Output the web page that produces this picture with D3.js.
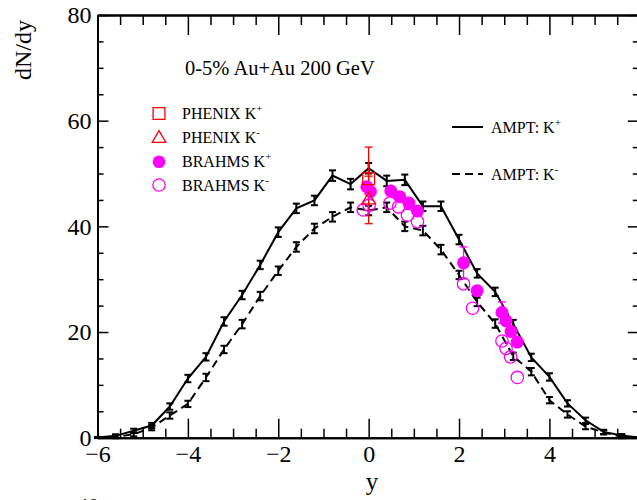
<!DOCTYPE html>
<html><head><meta charset="utf-8">
<script src="https://cdn.jsdelivr.net/npm/d3@7"></script>
<style>body{margin:0;background:#fff}svg{display:block}text{font-family:"Liberation Serif","Times New Roman",serif;fill:#000}</style>
</head><body><svg id="c" width="637" height="500"></svg>
<script>
// ---- data ----
const amptY = [-6.0,-5.6,-5.2,-4.8,-4.4,-4.0,-3.6,-3.2,-2.8,-2.4,-2.0,-1.6,-1.2,-0.8,-0.4,0.0,0.4,0.8,1.2,1.6,2.0,2.4,2.8,3.2,3.6,4.0,4.4,4.8,5.2,5.6,6.0];
const amptKplus = [0.05,0.35,1.3,2.3,5.9,11.2,15.3,22.0,27.0,32.7,38.9,43.4,44.9,49.6,48.0,51.0,48.6,48.8,43.8,43.8,37.5,31.1,27.6,21.5,15.2,11.5,6.5,3.3,1.1,0.4,0.05];
const amptKplusErr = [0.1,0.3,0.4,0.5,0.6,0.7,0.7,0.8,0.8,0.8,0.9,0.9,0.9,1.0,1.0,1.0,1.0,1.0,0.9,0.9,0.9,0.8,0.8,0.8,0.7,0.7,0.6,0.5,0.4,0.3,0.1];
const amptKminus = [0.02,0.2,0.64,1.9,4.2,6.4,11.4,16.7,21.5,26.8,31.6,36.1,39.6,41.8,43.6,43.0,43.6,40.0,39.2,35.6,30.8,25.7,21.6,15.4,12.5,7.1,4.4,2.1,1.0,0.2,0.02];
const amptKminusErr = [0.1,0.3,0.4,0.5,0.6,0.6,0.7,0.7,0.8,0.8,0.8,0.9,0.9,0.9,0.9,0.9,0.9,0.9,0.9,0.9,0.8,0.8,0.8,0.7,0.7,0.6,0.6,0.5,0.4,0.3,0.1];
const phenixY = [0.0];
const phenixKplus = [49.0];
const phenixKplusErr = [6.0];
const phenixKminus = [45.0];
const phenixKminusErr = [4.5];
const brahmsKplusY = [-0.04,0.04,0.49,0.69,0.89,1.08,2.1,2.4,2.95,3.04,3.15,3.29];
const brahmsKplus = [47.5,46.6,46.7,45.6,44.4,42.9,33.1,27.8,23.7,22.1,20.1,18.1];
const brahmsKplusErr = [0,0,0,0,0,0,3.0,0,2.0,0,0,0];
const brahmsKminusY = [-0.12,0.01,0.47,0.66,0.86,1.08,2.1,2.3,2.95,3.04,3.14,3.29];
const brahmsKminus = [43.1,44.0,44.4,43.7,42.1,40.9,29.1,24.5,18.3,16.9,15.3,11.4];
const brahmsKminusErr = [0,0,0,0,0,0,0,0,0,0,0,0];
const xMajor = [-6,-4,-2,0,2,4,6];
const xLabels = [-6,-4,-2,0,2,4];
const yMajor = [0,20,40,60,80];

// ---- layout ----
const svg = d3.select("#c");
const L = 97.5, R = 639.8, T = 15, B = 437.7;
const x = d3.scaleLinear().domain([-6,6]).range([L,R]);
const y = d3.scaleLinear().domain([0,80]).range([B,T]);
const minorX = d3.range(-6,6.01,0.5).filter(v=>!xMajor.includes(v));
const minorY = d3.range(0,80.01,5).filter(v=>!yMajor.includes(v));
const fmt = v => (v<0?"\u2212":"")+Math.abs(v);

function styleAxis(g){
  g.selectAll(".domain").attr("stroke","#000").attr("stroke-width",2);
  g.selectAll(".tick line").attr("stroke","#000").attr("stroke-width",1.5);
  g.selectAll("text").attr("font-family",'"Liberation Serif",serif').attr("font-size",24).attr("fill","#000");
}
// bottom
svg.append("g").attr("transform",`translate(0,${B})`)
  .call(d3.axisBottom(x).tickValues(minorX).tickSize(-9).tickSizeOuter(0).tickFormat("")).call(styleAxis);
svg.append("g").attr("transform",`translate(0,${B})`)
  .call(d3.axisBottom(x).tickValues(xMajor).tickSize(-19).tickSizeOuter(0).tickFormat(v=>xLabels.includes(v)?fmt(v):"").tickPadding(7)).call(styleAxis);
// top
svg.append("g").attr("transform",`translate(0,${T})`)
  .call(d3.axisTop(x).tickValues(minorX).tickSize(-10).tickSizeOuter(0).tickFormat("")).call(styleAxis);
svg.append("g").attr("transform",`translate(0,${T})`)
  .call(d3.axisTop(x).tickValues(xMajor).tickSize(-20).tickSizeOuter(0).tickFormat("")).call(styleAxis);
// left
svg.append("g").attr("transform",`translate(${L},0)`)
  .call(d3.axisLeft(y).tickValues(minorY).tickSize(-6).tickSizeOuter(0).tickFormat("")).call(styleAxis);
svg.append("g").attr("transform",`translate(${L},0)`)
  .call(d3.axisLeft(y).tickValues(yMajor).tickSize(-11).tickSizeOuter(0).tickPadding(6)).call(styleAxis);
// right
svg.append("g").attr("transform",`translate(${R},0)`)
  .call(d3.axisRight(y).tickValues(minorY).tickSize(-7).tickSizeOuter(0).tickFormat("")).call(styleAxis);
svg.append("g").attr("transform",`translate(${R},0)`)
  .call(d3.axisRight(y).tickValues(yMajor).tickSize(-12).tickSizeOuter(0).tickFormat("")).call(styleAxis);

// axis titles
svg.append("text").attr("transform","translate(31,50) rotate(-90)").attr("text-anchor","middle")
  .attr("font-size",24).text("dN/dy");
svg.append("text").attr("x",372).attr("y",490).attr("text-anchor","middle").attr("font-size",25).text("y");
// partial text from next panel (cut off at the bottom edge, as in the reference)
svg.append("text").attr("x",77).attr("y",512.5).attr("font-size",22).text("40");

// ---- AMPT curves ----
const line = d3.line().x(d=>x(d[0])).y(d=>y(d[1]));
function drawAmpt(vals, errs, dash){
  const pts = amptY.map((v,i)=>[v,vals[i],errs[i]]);
  svg.append("path").datum(pts).attr("d",line).attr("fill","none").attr("stroke","#000")
    .attr("stroke-width",2).attr("stroke-dasharray",dash||null);
  const g = svg.append("g").attr("stroke","#000").attr("stroke-width",2);
  pts.forEach(p=>{
    const cx = x(p[0]), y1 = y(p[1]+p[2]), y2 = y(p[1]-p[2]);
    g.append("line").attr("x1",cx).attr("x2",cx).attr("y1",y1).attr("y2",y2);
    g.append("line").attr("x1",cx-3.5).attr("x2",cx+3.5).attr("y1",y1).attr("y2",y1);
    g.append("line").attr("x1",cx-3.5).attr("x2",cx+3.5).attr("y1",y2).attr("y2",y2);
  });
}
drawAmpt(amptKminus, amptKminusErr, "8,5");
drawAmpt(amptKplus, amptKplusErr, null);

// ---- experimental data ----
function errBars(xs, vals, errs, color){
  const g = svg.append("g").attr("stroke",color).attr("stroke-width",1.3);
  xs.forEach((v,i)=>{
    if(!errs[i]) return;
    const cx = x(v), y1 = y(vals[i]+errs[i]), y2 = y(vals[i]-errs[i]);
    g.append("line").attr("x1",cx).attr("x2",cx).attr("y1",y1).attr("y2",y2);
    g.append("line").attr("x1",cx-4).attr("x2",cx+4).attr("y1",y1).attr("y2",y1);
    g.append("line").attr("x1",cx-4).attr("x2",cx+4).attr("y1",y2).attr("y2",y2);
  });
}
errBars(brahmsKminusY, brahmsKminus, brahmsKminusErr, "#ff00ff");
errBars(brahmsKplusY, brahmsKplus, brahmsKplusErr, "#ff00ff");
errBars(phenixY, phenixKplus, phenixKplusErr, "#ff0000");
errBars(phenixY, phenixKminus, phenixKminusErr, "#ff0000");

const sq = d3.symbol().type(d3.symbolSquare).size(140);
const tri = d3.symbol().type(d3.symbolTriangle).size(80);
svg.append("g").selectAll("circle").data(brahmsKminusY).join("circle")
  .attr("cx",d=>x(d)).attr("cy",(d,i)=>y(brahmsKminus[i])).attr("r",6.2)
  .attr("fill","none").attr("stroke","#ff00ff").attr("stroke-width",1.3);
svg.append("g").selectAll("circle").data(brahmsKplusY).join("circle")
  .attr("cx",d=>x(d)).attr("cy",(d,i)=>y(brahmsKplus[i])).attr("r",6.5)
  .attr("fill","#ff00ff");
svg.append("g").selectAll("path").data(phenixY).join("path")
  .attr("d",sq).attr("transform",(d,i)=>`translate(${x(d)},${y(phenixKplus[i])})`)
  .attr("fill","none").attr("stroke","#ff0000").attr("stroke-width",1.3);
svg.append("g").selectAll("path").data(phenixY).join("path")
  .attr("d",tri).attr("transform",(d,i)=>`translate(${x(d)},${y(phenixKminus[i])})`)
  .attr("fill","none").attr("stroke","#ff0000").attr("stroke-width",1.3);

// ---- title ----
svg.append("text").attr("x",185).attr("y",75).attr("font-size",20.5).text("0-5% Au+Au 200 GeV");

// ---- left legend ----
const legX = 159, legTX = 182;
function legText(yb, name, sign){
  const t = svg.append("text").attr("x",legTX).attr("y",yb).attr("font-size",16);
  t.append("tspan").text(name+" K");
  t.append("tspan").attr("font-size",11).attr("dy",-7).text(sign);
}
svg.append("path").attr("d",sq).attr("transform",`translate(${legX},113.5)`)
  .attr("fill","none").attr("stroke","#ff0000").attr("stroke-width",1.3);
legText(119,"PHENIX","+");
svg.append("path").attr("d",tri).attr("transform",`translate(${legX},138.5)`)
  .attr("fill","none").attr("stroke","#ff0000").attr("stroke-width",1.3);
legText(143,"PHENIX","-");
svg.append("circle").attr("cx",legX).attr("cy",161.7).attr("r",6.3).attr("fill","#ff00ff");
legText(167,"BRAHMS","+");
svg.append("circle").attr("cx",legX).attr("cy",185).attr("r",6.2).attr("fill","none")
  .attr("stroke","#ff00ff").attr("stroke-width",1.3);
legText(190.5,"BRAHMS","-");

// ---- right legend ----
svg.append("line").attr("x1",452).attr("x2",483).attr("y1",127).attr("y2",127)
  .attr("stroke","#000").attr("stroke-width",2);
svg.append("line").attr("x1",452).attr("x2",483).attr("y1",174).attr("y2",174)
  .attr("stroke","#000").attr("stroke-width",2).attr("stroke-dasharray","8,5");
function rText(yb, sign){
  const t = svg.append("text").attr("x",491).attr("y",yb).attr("font-size",16);
  t.append("tspan").text("AMPT: K");
  t.append("tspan").attr("font-size",11).attr("dy",-7).text(sign);
}
rText(133.3,"+");
rText(180,"-");
</script></body></html>
